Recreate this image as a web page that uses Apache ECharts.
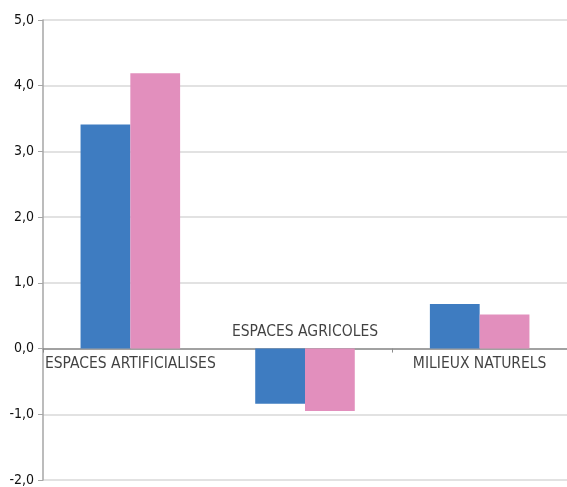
<!DOCTYPE html>
<html><head><meta charset="utf-8">
<script src="https://cdn.jsdelivr.net/npm/echarts@6/dist/echarts.min.js"></script>
<style>html,body{margin:0;padding:0;background:#fff}#c{width:567px;height:487px}</style>
</head><body><div id="c"></div>
<script>
const categories = ['ESPACES ARTIFICIALISES', 'ESPACES AGRICOLES', 'MILIEUX NATURELS'];
const seriesA = [3.41, -0.84, 0.68];
const seriesB = [4.19, -0.95, 0.52];
const yTicks = { min: -2, max: 5, interval: 1 };

const FONT = '"DejaVu Sans Condensed", sans-serif';
const chart = echarts.init(document.getElementById('c'));
chart.setOption({
  animation: false,
  grid: { left: 43, right: 0, top: 20, bottom: 5, containLabel: false },
  xAxis: {
    type: 'category', data: categories,
    axisLine: { onZero: true, lineStyle: { color: '#8c8c8c', width: 1.5 } },
    axisTick: { show: true, length: 4, inside: false, lineStyle: { color: '#8c8c8c' } },
    axisLabel: { show: false }
  },
  yAxis: {
    type: 'value', min: yTicks.min, max: yTicks.max, interval: yTicks.interval,
    axisLine: { show: true, lineStyle: { color: '#a6a6a6', width: 1.5 } },
    axisTick: { show: true, length: 5, lineStyle: { color: '#a6a6a6' } },
    splitLine: { lineStyle: { color: '#d9d9d9', width: 1.5 } },
    axisLabel: { color: '#111', fontFamily: FONT, fontSize: 14, margin: 9,
      formatter: v => v.toFixed(1).replace('.', ',') }
  },
  series: [
    { type: 'bar', data: seriesA, barGap: '0%', barCategoryGap: '43%',
      itemStyle: { color: '#3e7cc1' } },
    { type: 'bar', data: seriesB, barGap: '0%', barCategoryGap: '43%',
      itemStyle: { color: '#e28fbd' } },
    { type: 'scatter', symbolSize: 0, silent: true,
      data: categories.map((c, i) => ({
        value: [c, 0],
        label: { show: true, formatter: c,
          position: seriesA[i] < 0 ? 'top' : 'bottom', distance: seriesA[i] < 0 ? 9 : 7 }
      })),
      label: { color: '#111', fontFamily: FONT, fontSize: 15.5 } }
  ]
});
</script></body></html>
